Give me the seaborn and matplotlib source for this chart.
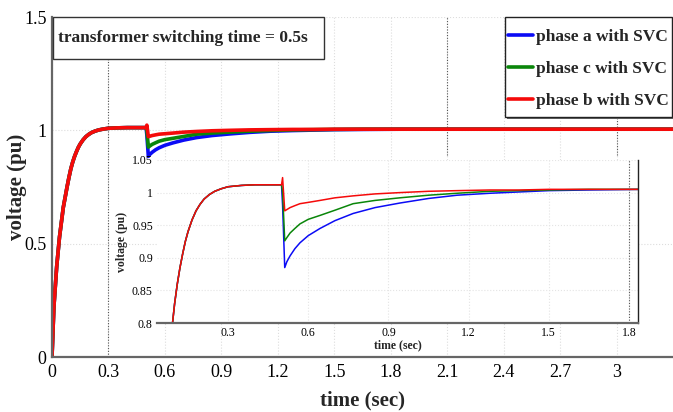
import matplotlib
matplotlib.use("Agg")
import matplotlib.pyplot as plt
from matplotlib.patches import Rectangle
import pandas as pd
import seaborn as sns

# Energisation: identical on all three phases up to the switching instant
time_rise = [0, 0.01, 0.025, 0.04, 0.06, 0.08, 0.09, 0.1, 0.11, 0.12, 0.13,
             0.14, 0.15, 0.165, 0.18, 0.195, 0.21, 0.23, 0.25, 0.275, 0.3,
             0.35, 0.4, 0.5]
volt_rise = [0, 0.22, 0.40, 0.53, 0.66, 0.75, 0.792, 0.83, 0.86, 0.885, 0.906,
             0.925, 0.94, 0.958, 0.972, 0.982, 0.99, 0.997, 1.002, 1.006, 1.009,
             1.011, 1.012, 1.012]

# After transformer switching at t = 0.5 s
time_after = [0.504, 0.512, 0.52, 0.532, 0.55, 0.569, 0.6, 0.644, 0.7, 0.768,
              0.85, 0.943, 1.05, 1.157, 1.28, 1.39, 1.5, 1.65, 1.85, 2.2, 2.6,
              3.0, 3.3]
phase_a_after = [0.98, 0.885, 0.894, 0.903, 0.914, 0.923, 0.934, 0.945, 0.957,
                 0.968, 0.977, 0.984, 0.991, 0.996, 0.999, 1.001, 1.003, 1.004,
                 1.005, 1.005, 1.005, 1.005, 1.005]
phase_c_after = [1.0, 0.926, 0.931, 0.938, 0.945, 0.952, 0.959, 0.965, 0.973,
                 0.983, 0.988, 0.992, 0.996, 0.999, 1.002, 1.003, 1.004, 1.005,
                 1.005, 1.005, 1.005, 1.005, 1.005]
phase_b_after = [1.023, 0.972, 0.974, 0.977, 0.980, 0.983, 0.985, 0.988, 0.992,
                 0.995, 0.998, 1.0, 1.002, 1.003, 1.004, 1.004, 1.005, 1.005,
                 1.005, 1.005, 1.005, 1.005, 1.005]

series_names = ["phase a with SVC", "phase c with SVC", "phase b with SVC"]
series_colors = ["#0b0bf5", "#0a860a", "#f50a0a"]

main_xticks = [0, 0.3, 0.6, 0.9, 1.2, 1.5, 1.8, 2.1, 2.4, 2.7, 3]
main_xlabels = ["0", "0.3", "0.6", "0.9", "1.2", "1.5", "1.8", "2.1", "2.4", "2.7", "3"]
main_yticks = [0, 0.5, 1, 1.5]
main_ylabels = ["0", "0.5", "1", "1.5"]
inset_xticks = [0.3, 0.6, 0.9, 1.2, 1.5, 1.8]
inset_xlabels = ["0.3", "0.6", "0.9", "1.2", "1.5", "1.8"]
inset_yticks = [0.8, 0.85, 0.9, 0.95, 1.0, 1.05]
inset_ylabels = ["0.8", "0.85", "0.9", "0.95", "1", "1.05"]

title_text = "transformer switching time = 0.5s"

time_all = time_rise + time_after
rows = []
for name, after in zip(series_names, [phase_a_after, phase_c_after, phase_b_after]):
    for t, v in zip(time_all, volt_rise + after):
        rows.append((t, v, name))
df = pd.DataFrame(rows, columns=["time", "voltage", "phase"])

sns.set_theme(style="white")
plt.rcParams["font.family"] = ["Liberation Serif", "DejaVu Serif"]

W, H = 673, 412
fig = plt.figure(figsize=(W / 100, H / 100), dpi=100)
fig.patch.set_facecolor("white")

# ---- main axes ----
ax = fig.add_axes([52 / W, (H - 357) / H, 621 / W, 340 / H])
sns.lineplot(data=df, x="time", y="voltage", hue="phase", hue_order=series_names,
             palette=series_colors, linewidth=2.6, estimator=None, sort=False,
             errorbar=None, ax=ax)
ax.set_xlim(0, 3.3)
ax.set_ylim(0, 1.5)
ax.set_xticks(main_xticks, main_xlabels)
ax.set_yticks(main_yticks, main_ylabels)
ax.grid(True, color="#dddddd", linestyle=":", linewidth=0.8)
ax.axvline(0.3, color="#555555", linestyle=(0, (1, 1.5)), linewidth=0.8, zorder=1)
for xv in (2.1, 3.0):
    ax.axvline(xv, ymin=0.593, ymax=1, color="#555555", linestyle=(0, (1, 1.5)),
               linewidth=0.8, zorder=1)
for s in ("top", "right"):
    ax.spines[s].set_visible(False)
for s in ("left", "bottom"):
    ax.spines[s].set_color("#666666")
    ax.spines[s].set_linewidth(1.6)
ax.tick_params(axis="x", direction="in", length=5, width=1.2, color="#555555",
               labelsize=13, pad=5, labelcolor="black")
ax.tick_params(axis="y", length=0, labelsize=13, pad=4, labelcolor="black")
ax.set_xlabel("time (sec)", fontsize=15, fontweight="bold", labelpad=7)
ax.set_ylabel("")
fig.text(17 / W, (H - 187) / H, "voltage (pu)", fontsize=15, fontweight="bold",
         rotation=90, ha="center", va="center")

# legend: framed box with a slight drop shadow, entries centred inside it
handles, labels = ax.get_legend_handles_labels()
ax.get_legend().remove()
box_l, box_r, box_t, box_b = 505, 672, 17, 117
fig.patches.append(Rectangle(((box_l + 1.5) / W, (H - box_b - 1.5) / H),
                             (box_r - box_l) / W, (box_b - box_t) / H,
                             transform=fig.transFigure, facecolor="#666666",
                             edgecolor="none", zorder=4))
fig.patches.append(Rectangle((box_l / W, (H - box_b) / H),
                             (box_r - box_l) / W, (box_b - box_t) / H,
                             transform=fig.transFigure, facecolor="white",
                             edgecolor="#222222", linewidth=1.0, zorder=4.5))
leg = fig.legend(handles, labels, loc="center",
                 bbox_to_anchor=((box_l + box_r) / 2 / W, (H - 69) / H),
                 bbox_transform=fig.transFigure, borderaxespad=0,
                 frameon=False, handlelength=1.45, handletextpad=0.15,
                 labelspacing=0.92, borderpad=0.2,
                 prop={"weight": "bold", "size": 12.5})
leg.set_zorder(6)
for line in leg.get_lines():
    line.set_linewidth(2.6)

# title box
fig.patches.append(Rectangle((53 / W, (H - 59) / H), 271 / W, 42 / H,
                             transform=fig.transFigure, facecolor="white",
                             edgecolor="#333333", linewidth=1.0, zorder=5))
fig.text(58 / W, (H - 38) / H, title_text, fontsize=12.5, fontweight="bold",
         ha="left", va="center", zorder=6)

# ---- zoomed inset ----
ins = fig.add_axes([157 / W, (H - 323) / H, 481 / W, 163 / H])
ins.set_facecolor("white")
sns.lineplot(data=df, x="time", y="voltage", hue="phase", hue_order=series_names,
             palette=series_colors, linewidth=1.1, estimator=None, sort=False,
             errorbar=None, ax=ins, legend=False)
ins.set_xlim(0.034, 1.834)
ins.set_ylim(0.8, 1.05)
ins.set_xticks(inset_xticks, inset_xlabels)
ins.set_yticks(inset_yticks, inset_ylabels)
ins.grid(True, color="#e4e4e4", linestyle=":", linewidth=0.8)
ins.axvline(1.8, color="#555555", linestyle=(0, (1, 1.5)), linewidth=0.8, zorder=1)
ins.spines["top"].set_visible(False)
ins.spines["left"].set_visible(False)
ins.spines["bottom"].set_color("#666666")
ins.spines["bottom"].set_linewidth(1.6)
ins.spines["right"].set_color("#222222")
ins.spines["right"].set_linewidth(1.0)
ins.tick_params(axis="x", direction="in", length=3, width=1.0, color="#555555",
                labelsize=8.5, pad=3, labelcolor="black")
ins.tick_params(axis="y", length=0, labelsize=8.5, pad=3, labelcolor="black")
ins.set_xlabel("time (sec)", fontsize=8.5, fontweight="bold", labelpad=0)
ins.set_ylabel("voltage (pu)", fontsize=8.5, fontweight="bold", labelpad=3)

fig.savefig("out.png", dpi=100, facecolor="white")
